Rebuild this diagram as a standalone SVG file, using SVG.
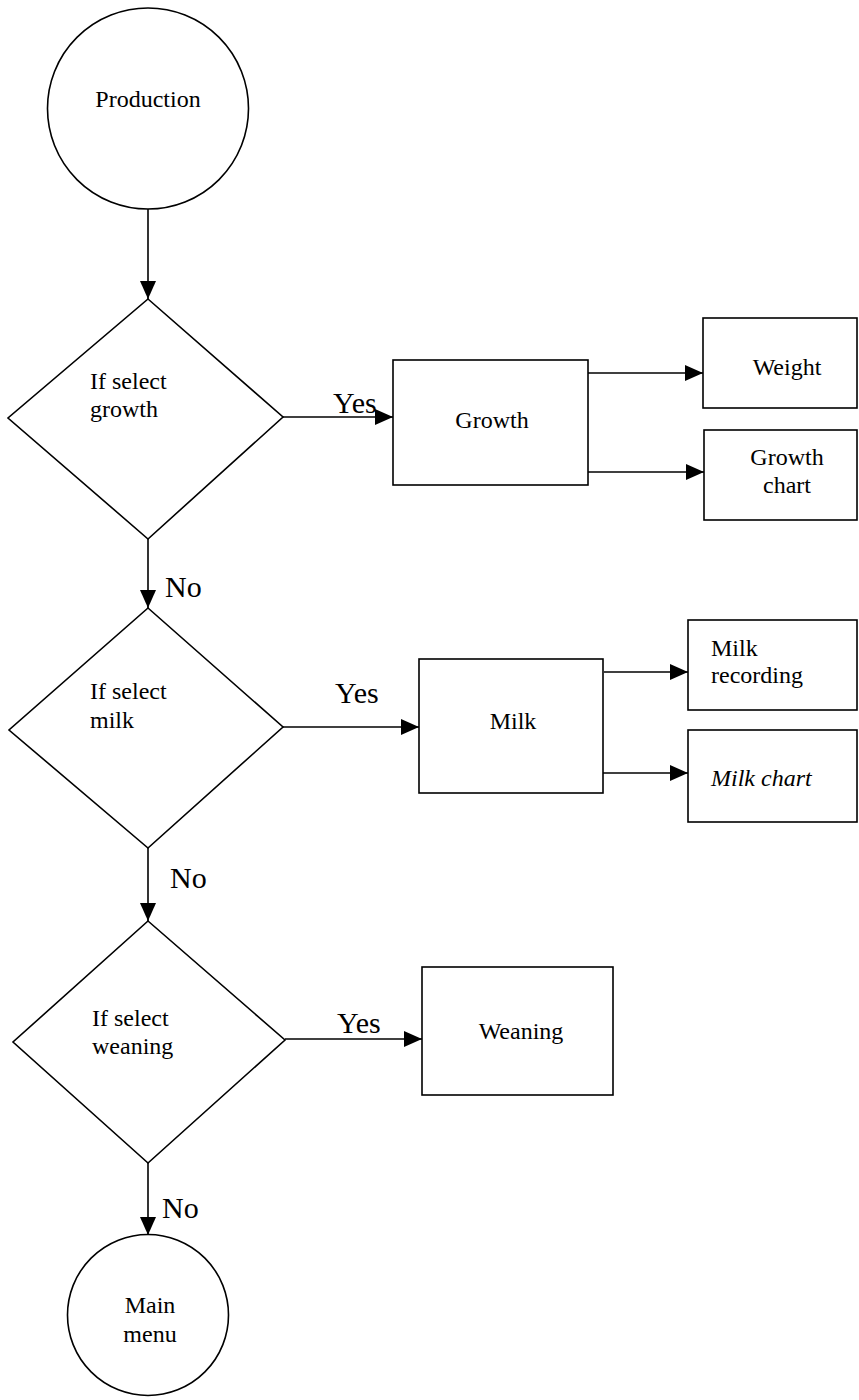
<svg xmlns="http://www.w3.org/2000/svg" width="859" height="1400" viewBox="0 0 859 1400">
  <style>
    .shape { fill: #ffffff; stroke: #000000; stroke-width: 1.6; }
    .edge { fill: none; stroke: #000000; stroke-width: 1.6; }
    .label { font-family: "Liberation Serif", "Times New Roman", serif; font-size: 24px; fill: #000000; }
    .mid { text-anchor: middle; }
    .branch { font-family: "Liberation Serif", "Times New Roman", serif; font-size: 30px; fill: #000000; }
  </style>
  <defs>
    <marker id="arrow" markerUnits="userSpaceOnUse" markerWidth="18" markerHeight="16" refX="18" refY="8" orient="auto">
      <path d="M0,0 L18,8 L0,16 z" fill="#000000"/>
    </marker>
  </defs>
  <rect width="859" height="1400" fill="#ffffff"/>

  <!-- connectors -->
  <g id="connectors">
    <line class="edge" x1="148" y1="209" x2="148" y2="299" marker-end="url(#arrow)"/>
    <line class="edge" x1="283" y1="417" x2="393" y2="417" marker-end="url(#arrow)"/>
    <line class="edge" x1="588" y1="373" x2="703" y2="373" marker-end="url(#arrow)"/>
    <line class="edge" x1="588" y1="472" x2="704" y2="472" marker-end="url(#arrow)"/>
    <line class="edge" x1="148" y1="539" x2="148" y2="608" marker-end="url(#arrow)"/>
    <line class="edge" x1="283" y1="727" x2="419" y2="727" marker-end="url(#arrow)"/>
    <line class="edge" x1="604" y1="672" x2="688" y2="672" marker-end="url(#arrow)"/>
    <line class="edge" x1="603" y1="773" x2="688" y2="773" marker-end="url(#arrow)"/>
    <line class="edge" x1="148" y1="848" x2="148" y2="921" marker-end="url(#arrow)"/>
    <line class="edge" x1="285" y1="1039" x2="422" y2="1039" marker-end="url(#arrow)"/>
    <line class="edge" x1="148" y1="1163" x2="148" y2="1235" marker-end="url(#arrow)"/>
    <text class="branch" x="333" y="413">Yes</text>
    <text class="branch" x="165" y="597">No</text>
    <text class="branch" x="335" y="703">Yes</text>
    <text class="branch" x="170" y="888">No</text>
    <text class="branch" x="337" y="1033">Yes</text>
    <text class="branch" x="162" y="1218">No</text>
  </g>

  <!-- start -->
  <g id="production">
    <circle class="shape" cx="148" cy="108.5" r="100.5"/>
    <text class="label mid" x="148" y="107">Production</text>
  </g>

  <!-- decision: growth -->
  <g id="select-growth">
    <polygon class="shape" points="148,299 283,417 148,539 8,418"/>
    <text class="label" x="90" y="389">If select</text>
    <text class="label" x="90" y="417">growth</text>
  </g>
  <g id="growth">
    <rect class="shape" x="393" y="360" width="195" height="125"/>
    <text class="label mid" x="492" y="428">Growth</text>
  </g>
  <g id="weight">
    <rect class="shape" x="703" y="318" width="154" height="90"/>
    <text class="label mid" x="787" y="375">Weight</text>
  </g>
  <g id="growth-chart">
    <rect class="shape" x="704" y="430" width="153" height="90"/>
    <text class="label mid" x="787" y="465">Growth</text>
    <text class="label mid" x="787" y="493">chart</text>
  </g>

  <!-- decision: milk -->
  <g id="select-milk">
    <polygon class="shape" points="148,608 283,727 148,848 9,730"/>
    <text class="label" x="90" y="699">If select</text>
    <text class="label" x="90" y="728">milk</text>
  </g>
  <g id="milk">
    <rect class="shape" x="419" y="659" width="184" height="134"/>
    <text class="label mid" x="513" y="729">Milk</text>
  </g>
  <g id="milk-recording">
    <rect class="shape" x="688" y="620" width="169" height="90"/>
    <text class="label" x="711" y="656">Milk</text>
    <text class="label" x="711" y="683">recording</text>
  </g>
  <g id="milk-chart">
    <rect class="shape" x="688" y="730" width="169" height="92"/>
    <text class="label" x="711" y="786" font-style="italic">Milk chart</text>
  </g>

  <!-- decision: weaning -->
  <g id="select-weaning">
    <polygon class="shape" points="148,921 285,1040 148,1163 13,1042"/>
    <text class="label" x="92" y="1026">If select</text>
    <text class="label" x="92" y="1054">weaning</text>
  </g>
  <g id="weaning">
    <rect class="shape" x="422" y="967" width="191" height="128"/>
    <text class="label mid" x="521" y="1039">Weaning</text>
  </g>

  <!-- end -->
  <g id="main-menu">
    <circle class="shape" cx="148" cy="1315" r="80.5"/>
    <text class="label mid" x="150" y="1313">Main</text>
    <text class="label mid" x="150" y="1342">menu</text>
  </g>
</svg>
